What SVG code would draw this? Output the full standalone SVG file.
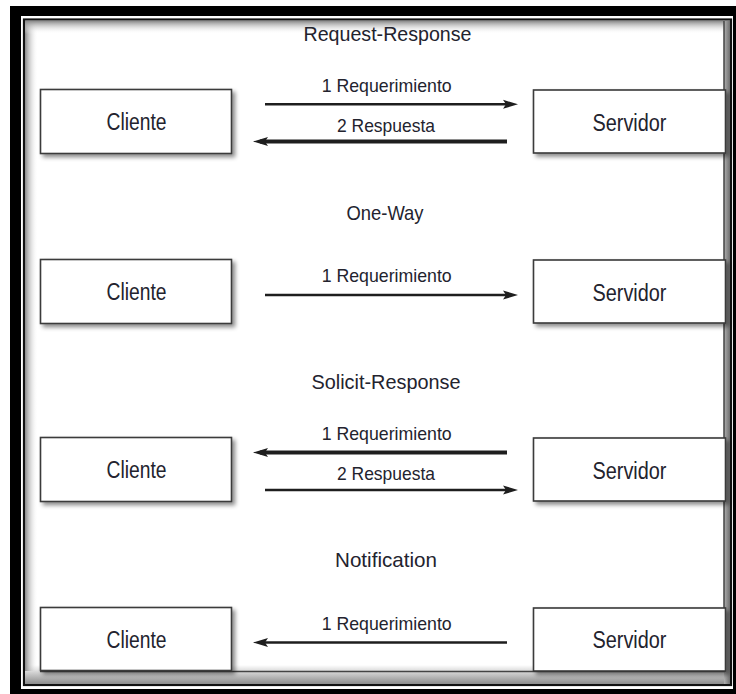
<svg xmlns="http://www.w3.org/2000/svg" width="736" height="694" viewBox="0 0 736 694">
  <defs>
    <style>
      .box { fill: #ffffff; stroke: #3a3a3a; stroke-width: 1.6; filter: url(#shadow); }
      .name { font-family: "Liberation Sans Narrow", "Liberation Sans", Arial, sans-serif; font-size: 23px; fill: #23232e; text-anchor: middle; }
      .title { font-family: "Liberation Sans Narrow", "Liberation Sans", Arial, sans-serif; font-size: 21px; fill: #23232e; text-anchor: middle; }
      .label { font-family: "Liberation Sans Narrow", "Liberation Sans", Arial, sans-serif; font-size: 19px; fill: #23232e; text-anchor: middle; }
      .wire { fill: none; stroke: #1e1e1e; marker-end: url(#head); }
      .thin { stroke-width: 2.6; }
      .thick { stroke-width: 4; }
    </style>
    <filter id="shadow" x="-10%" y="-20%" width="125%" height="150%">
      <feDropShadow dx="3" dy="3" stdDeviation="2" flood-color="#000" flood-opacity="0.45"/>
    </filter>
    <marker id="head" markerUnits="userSpaceOnUse" markerWidth="15" markerHeight="10" refX="8" refY="5" orient="auto">
      <path d="M0 0.5 L15 5 L0 9.5 L3 5 Z" fill="#1e1e1e"/>
    </marker>
    <linearGradient id="fadeLeft" x1="0" y1="0" x2="1" y2="0">
      <stop offset="0" stop-color="#8a8a8a"/>
      <stop offset="1" stop-color="#ffffff" stop-opacity="0"/>
    </linearGradient>
    <linearGradient id="fadeTop" x1="0" y1="0" x2="0" y2="1">
      <stop offset="0" stop-color="#8a8a8a"/>
      <stop offset="1" stop-color="#ffffff" stop-opacity="0"/>
    </linearGradient>
    <linearGradient id="shadeBottom" x1="0" y1="0" x2="0" y2="1">
      <stop offset="0" stop-color="#ffffff"/>
      <stop offset="1" stop-color="#8c8c8c"/>
    </linearGradient>
    <linearGradient id="shadeRight" x1="0" y1="0" x2="1" y2="0">
      <stop offset="0" stop-color="#b0b0b0"/>
      <stop offset="1" stop-color="#6e6e6e"/>
    </linearGradient>
  </defs>

  <!-- page -->
  <rect x="0" y="0" width="736" height="694" fill="#ffffff"/>

  <!-- frame: heavy outer band, thin inner rule, shaded panel edges -->
  <g id="frame">
    <path d="M10 6 H736 V694 H10 Z M21 16 V689 H733 V16 Z" fill="#000000" fill-rule="evenodd"/>
    <rect x="24" y="19.5" width="707" height="665.5" fill="none" stroke="#111111" stroke-width="2.2"/>
    <rect x="25" y="665" width="705" height="19" fill="url(#shadeBottom)"/>
    <rect x="724" y="21" width="6" height="663" fill="url(#shadeRight)"/>
    <rect x="25" y="21" width="13" height="650" fill="url(#fadeLeft)"/>
    <rect x="25" y="21" width="699" height="13" fill="url(#fadeTop)"/>
    <path d="M724 21 V671.5 H40" fill="none" stroke="#444444" stroke-width="1.5"/>
  </g>

  <!-- section titles -->
  <g id="titles">
    <text class="title" x="387.5" y="41" textLength="168" lengthAdjust="spacingAndGlyphs">Request-Response</text>
    <text class="title" x="385" y="220" textLength="77" lengthAdjust="spacingAndGlyphs">One-Way</text>
    <text class="title" x="386" y="389" textLength="149" lengthAdjust="spacingAndGlyphs">Solicit-Response</text>
    <text class="title" x="386" y="567" textLength="102" lengthAdjust="spacingAndGlyphs">Notification</text>
  </g>

  <!-- Request-Response -->
  <g id="cliente-1">
    <rect class="box" x="40.5" y="89.5" width="191" height="64"/>
    <text class="name" x="136.5" y="130" textLength="60" lengthAdjust="spacingAndGlyphs">Cliente</text>
  </g>
  <g id="servidor-1">
    <rect class="box" x="533.5" y="90" width="192" height="63"/>
    <text class="name" x="629.5" y="130.5" textLength="74" lengthAdjust="spacingAndGlyphs">Servidor</text>
  </g>

  <!-- One-Way -->
  <g id="cliente-2">
    <rect class="box" x="40.5" y="259.5" width="191" height="64"/>
    <text class="name" x="136.5" y="300" textLength="60" lengthAdjust="spacingAndGlyphs">Cliente</text>
  </g>
  <g id="servidor-2">
    <rect class="box" x="533.5" y="260" width="192" height="63"/>
    <text class="name" x="629.5" y="300.5" textLength="74" lengthAdjust="spacingAndGlyphs">Servidor</text>
  </g>

  <!-- Solicit-Response -->
  <g id="cliente-3">
    <rect class="box" x="40.5" y="437.5" width="191" height="64"/>
    <text class="name" x="136.5" y="478" textLength="60" lengthAdjust="spacingAndGlyphs">Cliente</text>
  </g>
  <g id="servidor-3">
    <rect class="box" x="533.5" y="438" width="192" height="63"/>
    <text class="name" x="629.5" y="478.5" textLength="74" lengthAdjust="spacingAndGlyphs">Servidor</text>
  </g>

  <!-- Notification -->
  <g id="cliente-4">
    <rect class="box" x="40.5" y="607.5" width="191" height="63"/>
    <text class="name" x="136.5" y="647.5" textLength="60" lengthAdjust="spacingAndGlyphs">Cliente</text>
  </g>
  <g id="servidor-4">
    <rect class="box" x="533.5" y="608" width="192" height="63"/>
    <text class="name" x="629.5" y="648" textLength="74" lengthAdjust="spacingAndGlyphs">Servidor</text>
  </g>

  <!-- message arrows -->
  <g id="connectors">
    <path class="wire thin" d="M265 104.3 H511"/>
    <path class="wire thick" d="M507 141.5 H260"/>
    <path class="wire thin" d="M265 295 H511"/>
    <path class="wire thick" d="M507 452.5 H260"/>
    <path class="wire thin" d="M265 490 H511"/>
    <path class="wire thin" d="M507 642.5 H260"/>
  </g>

  <!-- message labels -->
  <g id="labels">
    <text class="label" x="386.7" y="91.7" textLength="130" lengthAdjust="spacingAndGlyphs">1 Requerimiento</text>
    <text class="label" x="386" y="131.7" textLength="98" lengthAdjust="spacingAndGlyphs">2 Respuesta</text>
    <text class="label" x="386.7" y="281.7" textLength="130" lengthAdjust="spacingAndGlyphs">1 Requerimiento</text>
    <text class="label" x="386.7" y="440" textLength="130" lengthAdjust="spacingAndGlyphs">1 Requerimiento</text>
    <text class="label" x="386" y="480" textLength="98" lengthAdjust="spacingAndGlyphs">2 Respuesta</text>
    <text class="label" x="386.7" y="629.5" textLength="130" lengthAdjust="spacingAndGlyphs">1 Requerimiento</text>
  </g>
</svg>
